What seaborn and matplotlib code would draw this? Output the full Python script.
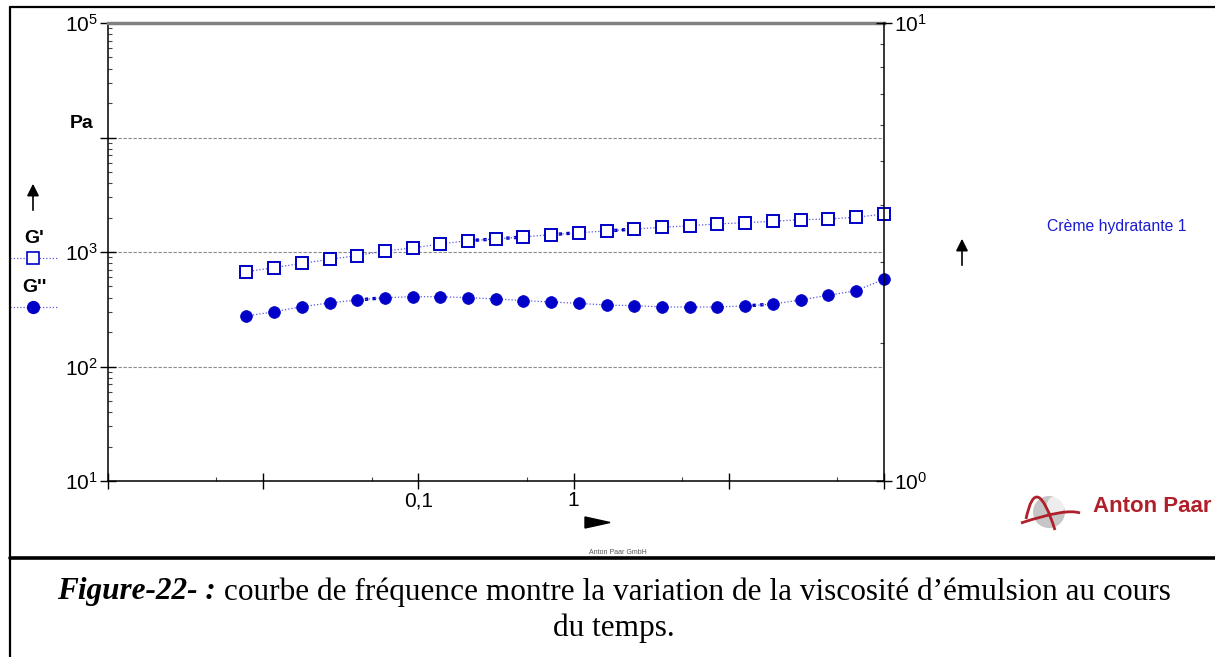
import numpy as np
import pandas as pd
import seaborn as sns
import matplotlib.pyplot as plt
from matplotlib.lines import Line2D
from matplotlib.patches import Polygon, Circle, PathPatch
from matplotlib.path import Path
from matplotlib.transforms import IdentityTransform
from matplotlib.ticker import LogLocator, FuncFormatter, NullFormatter

# frequency sweep
freq = [0.0078, 0.01175, 0.01774, 0.02675, 0.04036, 0.0608, 0.0918, 0.1384,
        0.2088, 0.315, 0.475, 0.716, 1.081, 1.63, 2.46, 3.71, 5.60, 8.44,
        12.7, 19.2, 29.0, 43.7, 65.9, 100.0]
g_storage = [673, 730, 796, 863, 929, 1021, 1084, 1175, 1256, 1300, 1353, 1417,
             1475, 1525, 1588, 1643, 1697, 1757, 1803, 1854, 1915, 1942, 2009, 2147]
g_loss = [276, 301, 333, 359, 381, 399, 407, 407, 399, 389, 376, 366,
          356, 344, 340, 331, 331, 331, 338, 351, 381, 419, 459, 578]

# segments the instrument export draws with heavier dots
bold_storage = [(8, 10), (11, 12), (13, 14)]
bold_loss = [(4, 5), (18, 19)]

x_labels = {0.1: '0,1', 1.0: '1'}
caption_bold = 'Figure-22- :'
caption_1 = ' courbe de fréquence montre la variation de la viscosité d’émulsion au cours'
caption_2 = 'du temps.'

df = pd.DataFrame({'freq': freq, 'Gp': g_storage, 'Gpp': g_loss})

sns.set_style('ticks')
plt.rcParams['font.family'] = ['Liberation Sans', 'DejaVu Sans']
plt.rcParams['text.color'] = 'black'
plt.rcParams['xtick.color'] = 'black'
plt.rcParams['ytick.color'] = 'black'

W, H = 1215, 657
BLUE = '#0000c8'
LINE_BLUE = '#5a5ae0'
RED = '#b0202a'
DOTS = (0, (1, 1.6))
TICK_SIZE = 15


def fx(px):
    return px / W


def fy(py):
    return 1 - py / H


def d(px, py):
    # pixel position (top-left origin) -> display coords
    return (px, H - py)


fig = plt.figure(figsize=(12.15, 6.57), dpi=100)
ax = fig.add_axes([fx(108), fy(481), fx(884) - fx(108), fy(23) - fy(481)])

sns.lineplot(data=df, x='freq', y='Gp', ax=ax, color=LINE_BLUE, lw=0.9, ls=DOTS,
             marker='s', markersize=9, markerfacecolor='white',
             markeredgecolor=BLUE, markeredgewidth=1.4, zorder=3, clip_on=False)
sns.lineplot(data=df, x='freq', y='Gpp', ax=ax, color=LINE_BLUE, lw=0.9, ls=DOTS,
             marker='o', markersize=8.5, markerfacecolor=BLUE,
             markeredgecolor=BLUE, markeredgewidth=0.5, zorder=3, clip_on=False)

for a, b in bold_storage:
    ax.plot(freq[a:b + 1], g_storage[a:b + 1], color=BLUE, lw=2.4, ls=(0, (1, 1.3)), zorder=2.5)
for a, b in bold_loss:
    ax.plot(freq[a:b + 1], g_loss[a:b + 1], color=BLUE, lw=2.4, ls=(0, (1, 1.3)), zorder=2.5)

ax.set(xscale='log', yscale='log', xlim=(1e-3, 1e2), ylim=(1e1, 1e5), xlabel='', ylabel='')

ax.xaxis.set_major_locator(LogLocator(base=10, numticks=10))
ax.xaxis.set_minor_locator(LogLocator(base=10, subs=[5], numticks=10))
ax.xaxis.set_major_formatter(FuncFormatter(lambda v, p: x_labels.get(round(v, 6), '')))
ax.xaxis.set_minor_formatter(NullFormatter())

ax.yaxis.set_major_locator(LogLocator(base=10, numticks=10))
ax.yaxis.set_minor_locator(LogLocator(base=10, subs=np.arange(2, 10), numticks=10))
ax.yaxis.set_major_formatter(FuncFormatter(
    lambda v, p: '' if round(np.log10(v)) == 4 else r'$\mathregular{10^{%d}}$' % round(np.log10(v))))
ax.yaxis.set_minor_formatter(NullFormatter())

ax.tick_params(which='major', direction='inout', length=11, width=1, color='black',
               labelcolor='black', labelsize=TICK_SIZE, pad=2, bottom=True, left=True)
ax.tick_params(which='minor', direction='in', length=3, width=0.8, color='#444444',
               bottom=True, left=True)

ax.yaxis.grid(True, which='major', color='#8a8a8a', ls=(0, (3, 1.5)), lw=0.8)
ax.xaxis.grid(False)
ax.spines['top'].set_color('#808080')
ax.spines['top'].set_linewidth(2.5)
ax.spines['right'].set_visible(False)
for s in ['left', 'bottom']:
    ax.spines[s].set_color('black')
    ax.spines[s].set_linewidth(1.1)

# right axis (empty, 10^0 .. 10^1)
ax2 = ax.twinx()
ax2.set_yscale('log')
ax2.set_ylim(1, 10)
ax2.yaxis.set_major_locator(LogLocator(base=10, numticks=5))
ax2.yaxis.set_minor_locator(LogLocator(base=10, subs=np.arange(2, 10), numticks=5))
ax2.yaxis.set_major_formatter(FuncFormatter(lambda v, p: r'$\mathregular{10^{%d}}$' % round(np.log10(v))))
ax2.yaxis.set_minor_formatter(NullFormatter())
ax2.tick_params(which='major', direction='inout', length=11, width=1, color='black',
                labelcolor='black', labelsize=TICK_SIZE, pad=2, right=True)
ax2.tick_params(which='minor', direction='in', length=3, width=0.8, color='#444444', right=True)
for s in ['top', 'left', 'bottom']:
    ax2.spines[s].set_visible(False)
ax2.spines['right'].set_color('black')
ax2.spines['right'].set_linewidth(1.1)

# left side annotations
fig.text(fx(82), fy(124), 'Pa', fontsize=14, fontweight='bold', ha='center', va='center')
ax.annotate('', xy=(fx(33), fy(181)), xytext=(fx(33), fy(213)), xycoords='figure fraction',
            textcoords='figure fraction',
            arrowprops=dict(arrowstyle='-|>', color='black', lw=1.2, mutation_scale=18))
fig.text(fx(34), fy(239), "G'", fontsize=14, fontweight='bold', ha='center', va='center')
fig.text(fx(34), fy(288), "G''", fontsize=14, fontweight='bold', ha='center', va='center')
fig.add_artist(Line2D([fx(10), fx(57)], [fy(258), fy(258)], color=LINE_BLUE, lw=0.9, ls=DOTS))
fig.add_artist(Line2D([fx(33)], [fy(258)], marker='s', markersize=9, markerfacecolor='white',
                      markeredgecolor=BLUE, markeredgewidth=1.2, ls='none'))
fig.add_artist(Line2D([fx(10), fx(57)], [fy(307), fy(307)], color=LINE_BLUE, lw=0.9, ls=DOTS))
fig.add_artist(Line2D([fx(33)], [fy(307)], marker='o', markersize=8.5, markerfacecolor=BLUE,
                      markeredgecolor=BLUE, ls='none'))

# right side annotations
fig.text(fx(1047), fy(226), 'Crème hydratante 1', fontsize=11.3, color='#1a1ad0', ha='left', va='center')
ax.annotate('', xy=(fx(962), fy(236)), xytext=(fx(962), fy(268)), xycoords='figure fraction',
            textcoords='figure fraction',
            arrowprops=dict(arrowstyle='-|>', color='black', lw=1.2, mutation_scale=18))

# x direction arrow and footer
fig.add_artist(Polygon([d(585, 517), d(610, 522.5), d(585, 528)], closed=True,
                       facecolor='black', edgecolor='black', transform=IdentityTransform()))
fig.text(fx(618), fy(552), 'Anton Paar GmbH', fontsize=5, color='#555555', ha='center', va='center')

# Anton Paar logo
fig.add_artist(Circle(d(1049, 512), 16, facecolor='#c6c6c6', edgecolor='none',
                      transform=IdentityTransform()))
fig.add_artist(Circle(d(1056, 505), 9, facecolor='white', edgecolor='none', alpha=0.7,
                      transform=IdentityTransform()))
arch = Path([d(1026, 519), d(1036, 470), d(1055, 530)], [Path.MOVETO, Path.CURVE3, Path.CURVE3])
swoosh = Path([d(1021, 523), d(1066, 508), d(1080, 513)], [Path.MOVETO, Path.CURVE3, Path.CURVE3])
fig.add_artist(PathPatch(arch, facecolor='none', edgecolor=RED, lw=2, transform=IdentityTransform()))
fig.add_artist(PathPatch(swoosh, facecolor='none', edgecolor=RED, lw=2, transform=IdentityTransform()))
fig.text(fx(1093), fy(506), 'Anton Paar', fontsize=16, fontweight='bold', color=RED,
         ha='left', va='center')

# frame lines
fig.add_artist(Line2D([fx(10), fx(1215)], [fy(7), fy(7)], color='black', lw=1.6))
fig.add_artist(Line2D([fx(10), fx(10)], [fy(7), fy(657)], color='black', lw=1.6))
fig.add_artist(Line2D([fx(10), fx(1215)], [fy(558), fy(558)], color='black', lw=2.6))

# caption, centred on the page
renderer = fig.canvas.get_renderer()
CAP = 22.5
t1 = fig.text(0, fy(592), caption_bold, fontsize=CAP, family=['Liberation Serif'],
              fontweight='bold', fontstyle='italic', ha='left', va='center')
t2 = fig.text(0, fy(592), caption_1, fontsize=CAP, family=['Liberation Serif'], ha='left', va='center')
w1 = t1.get_window_extent(renderer).width
w2 = t2.get_window_extent(renderer).width
start = 614 - (w1 + w2) / 2
t1.set_x(fx(start))
t2.set_x(fx(start + w1))
fig.text(fx(614), fy(628), caption_2, fontsize=CAP, family=['Liberation Serif'], ha='center', va='center')

fig.savefig('out.png', dpi=100)
